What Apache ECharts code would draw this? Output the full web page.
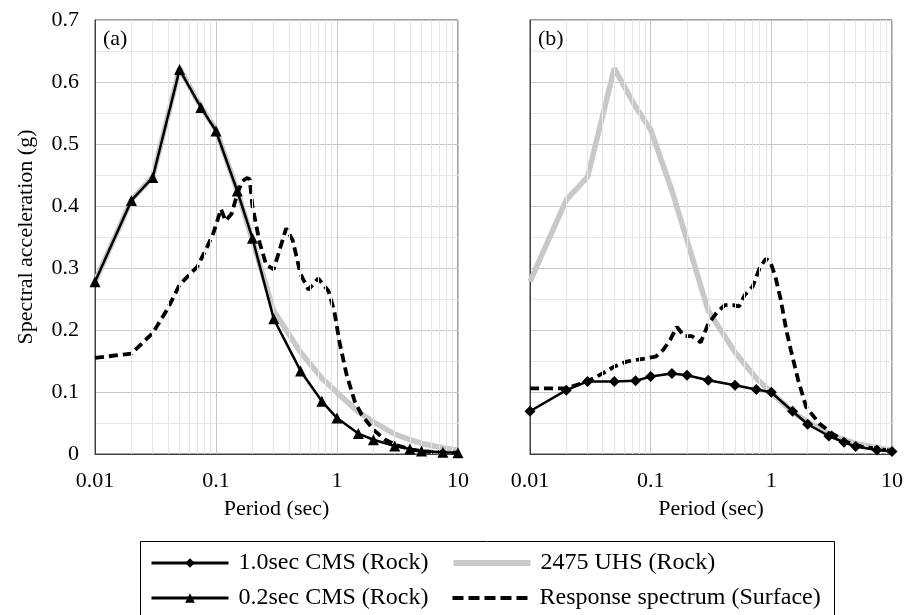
<!DOCTYPE html>
<html>
<head>
<meta charset="utf-8">
<script src="https://cdn.jsdelivr.net/npm/echarts@6/dist/echarts.min.js"></script>
<style>html,body{margin:0;padding:0;background:#fff;}#c{width:906px;height:615px;}</style>
</head>
<body>
<div id="c"></div>
<script>
// Periods (sec) of the rock spectra
var periods = [0.01,0.02,0.03,0.05,0.075,0.1,0.15,0.2,0.3,0.5,0.75,1,1.5,2,3,4,5,7.5,10];
// 0.2sec CMS (Rock), panel (a)
var cms02 = [0.278,0.409,0.446,0.620,0.559,0.521,0.424,0.348,0.218,0.134,0.085,0.058,0.033,0.023,0.013,0.008,0.005,0.003,0.002];
// 1.0sec CMS (Rock), panel (b)
var cms10 = [0.069,0.103,0.117,0.117,0.118,0.125,0.130,0.127,0.119,0.111,0.104,0.0995,0.069,0.048,0.029,0.019,0.012,0.0065,0.004];
// 2475 UHS (Rock), both panels
var uhs = [0.278,0.410,0.447,0.622,0.560,0.523,0.425,0.345,0.231,0.164,0.122,0.099,0.068,0.052,0.032,0.023,0.017,0.010,0.006];
// Response spectrum (Surface), panel (a): [period, Sa]
var respA = [[0.01,0.155],[0.02,0.162],[0.03,0.195],[0.04,0.235],[0.05,0.273],[0.07,0.302],[0.085,0.335],[0.095,0.356],[0.11,0.395],[0.12,0.376],[0.135,0.388],[0.15,0.42],[0.165,0.44],[0.18,0.445],[0.19,0.443],[0.2,0.4],[0.23,0.34],[0.26,0.305],[0.3,0.298],[0.34,0.333],[0.38,0.364],[0.43,0.345],[0.5,0.29],[0.58,0.265],[0.7,0.283],[0.85,0.263],[0.95,0.23],[1.05,0.18],[1.2,0.128],[1.4,0.085],[1.6,0.063],[2.0,0.039],[2.5,0.023],[3.1,0.014],[4.3,0.0065],[5.5,0.004],[10,0.002]];
// Response spectrum (Surface), panel (b)
var respB = [[0.01,0.106],[0.02,0.106],[0.03,0.117],[0.04,0.13],[0.05,0.141],[0.063,0.149],[0.076,0.152],[0.09,0.154],[0.11,0.157],[0.127,0.168],[0.145,0.184],[0.165,0.205],[0.19,0.19],[0.22,0.19],[0.26,0.18],[0.3,0.21],[0.35,0.227],[0.41,0.24],[0.48,0.24],[0.54,0.238],[0.6,0.256],[0.7,0.27],[0.8,0.3],[0.9,0.315],[0.98,0.31],[1.08,0.286],[1.2,0.248],[1.33,0.2],[1.45,0.168],[1.67,0.119],[1.94,0.076],[2.5,0.049],[3.2,0.033],[4.1,0.02],[5.6,0.012],[10,0.005]];
// Axis tick labels
var xTickValues = [0.01,0.1,1,10];
var xTickLabels = ['0.01','0.1','1','10'];
var yTickLabels = ['0','0.1','0.2','0.3','0.4','0.5','0.6','0.7'];
// Minor vertical grid positions
var minorX = [0.02,0.03,0.04,0.05,0.06,0.07,0.08,0.09,0.2,0.3,0.4,0.5,0.6,0.7,0.8,0.9,2,3,4,5,6,7,8,9];

var NAME_CMS10 = '1.0sec CMS (Rock)', NAME_CMS02 = '0.2sec CMS (Rock)', NAME_UHS = '2475 UHS (Rock)', NAME_RESP = 'Response spectrum (Surface)';
var FONT = 'Liberation Serif';

function pair(xs, ys){ return xs.map(function(x,i){ return [x, ys[i]]; }); }

function xAxisDef(idx){
  return {
    type:'log', logBase:10, min:0.01, max:10, gridIndex:idx,
    name:'Period (sec)', nameLocation:'middle', nameGap:44,
    nameTextStyle:{fontFamily:FONT, fontSize:22, color:'#000'},
    axisLine:{show:true, lineStyle:{color:'#404040', width:1}},
    axisTick:{show:false},
    axisLabel:{fontFamily:FONT, fontSize:22, color:'#000', margin:16,
      formatter:function(v){ for(var i=0;i<xTickValues.length;i++){ if(Math.abs(Math.log10(v)-Math.log10(xTickValues[i]))<1e-6) return xTickLabels[i]; } return ''; }},
    splitLine:{show:true, lineStyle:{color:'#c8c8c8', width:1}}
  };
}
function yAxisDef(idx, labels){
  return {
    type:'value', min:0, max:0.7, interval:0.1, gridIndex:idx,
    name: labels ? 'Spectral acceleration (g)' : '', nameLocation:'middle', nameGap:58,
    nameTextStyle:{fontFamily:FONT, fontSize:22, color:'#000'},
    axisLine:{show:true, lineStyle:{color:'#404040', width:1}},
    axisTick:{show:false},
    axisLabel:{show:labels, fontFamily:FONT, fontSize:22, color:'#000', margin:16,
      formatter:function(v){ return yTickLabels[Math.round(v*10)]; }},
    splitLine:{show:true, lineStyle:{color:'#c8c8c8', width:1}},
    minorTick:{show:false, splitNumber:2},
    minorSplitLine:{show:true, lineStyle:{color:'#e6e6e6', width:1}}
  };
}
function minorSeries(idx){
  return {
    type:'line', xAxisIndex:idx, yAxisIndex:idx, data:[], z:1, silent:true,
    markLine:{silent:true, symbol:['none','none'], label:{show:false}, animation:false,
      lineStyle:{color:'#e6e6e6', width:1, type:'solid'},
      data: minorX.map(function(v){ return {xAxis:v}; })}
  };
}
var uhsStyle = {type:'line', name:NAME_UHS, showSymbol:false, symbol:'none', z:3,
  lineStyle:{color:'#c8c8c8', width:5.5}, itemStyle:{color:'#c8c8c8'}};
var respStyle = {type:'line', name:NAME_RESP, showSymbol:false, symbol:'none', z:4,
  lineStyle:{color:'#000', width:3.8, type:[9,5]}, itemStyle:{color:'#000'}};

var hidden = {opacity:0, color:'rgba(0,0,0,0)', borderWidth:0};
var legendText = {fontFamily:FONT, fontSize:24, color:'#000', padding:[0,0,0,5]};
var option = {
  animation:false,
  backgroundColor:'#fff',
  title:[
    {text:'(a)', left:98, top:23, textStyle:{fontFamily:FONT, fontSize:22, fontWeight:'normal', color:'#000'}},
    {text:'(b)', left:533, top:23, textStyle:{fontFamily:FONT, fontSize:22, fontWeight:'normal', color:'#000'}}
  ],
  grid:[
    {left:95, top:20, width:363, height:434, show:true, borderColor:'#404040', borderWidth:1, backgroundColor:'transparent'},
    {left:530, top:20, width:363, height:434, show:true, borderColor:'#404040', borderWidth:1, backgroundColor:'transparent'}
  ],
  xAxis:[xAxisDef(0), xAxisDef(1)],
  yAxis:[yAxisDef(0,true), yAxisDef(1,false)],
  legend:[
    {data:[{name:NAME_CMS10, lineStyle:{width:3}},
           {name:NAME_UHS, itemStyle:hidden, lineStyle:{width:6, color:'#c8c8c8'}}],
      left:150, top:551, padding:0, itemWidth:77, itemHeight:12, itemGap:22, textStyle:legendText},
    {data:[{name:NAME_CMS02, lineStyle:{width:3}},
           {name:NAME_RESP, itemStyle:hidden, lineStyle:{width:4, type:[11,5]}}],
      left:150, top:586, padding:0, itemWidth:77, itemHeight:12, itemGap:22, textStyle:legendText}
  ],
  graphic:[{type:'rect', left:138, top:539, shape:{width:694, height:90}, style:{fill:'none', stroke:'#000', lineWidth:1}, silent:true}],
  series:[
    minorSeries(0),
    Object.assign({}, uhsStyle, {xAxisIndex:0, yAxisIndex:0, data:pair(periods, uhs)}),
    Object.assign({}, respStyle, {xAxisIndex:0, yAxisIndex:0, data:respA}),
    {type:'line', name:NAME_CMS02, xAxisIndex:0, yAxisIndex:0, data:pair(periods, cms02), z:5,
      symbol:'triangle', symbolSize:11, lineStyle:{color:'#000', width:2.5}, itemStyle:{color:'#000'}},
    minorSeries(1),
    Object.assign({}, uhsStyle, {xAxisIndex:1, yAxisIndex:1, data:pair(periods, uhs)}),
    Object.assign({}, respStyle, {xAxisIndex:1, yAxisIndex:1, data:respB}),
    {type:'line', name:NAME_CMS10, xAxisIndex:1, yAxisIndex:1, data:pair(periods, cms10), z:5,
      symbol:'diamond', symbolSize:11, lineStyle:{color:'#000', width:2.5}, itemStyle:{color:'#000'}}
  ]
};
var chart = echarts.init(document.getElementById('c'), null, {renderer:'canvas'});
chart.setOption(option);
</script>
</body>
</html>
